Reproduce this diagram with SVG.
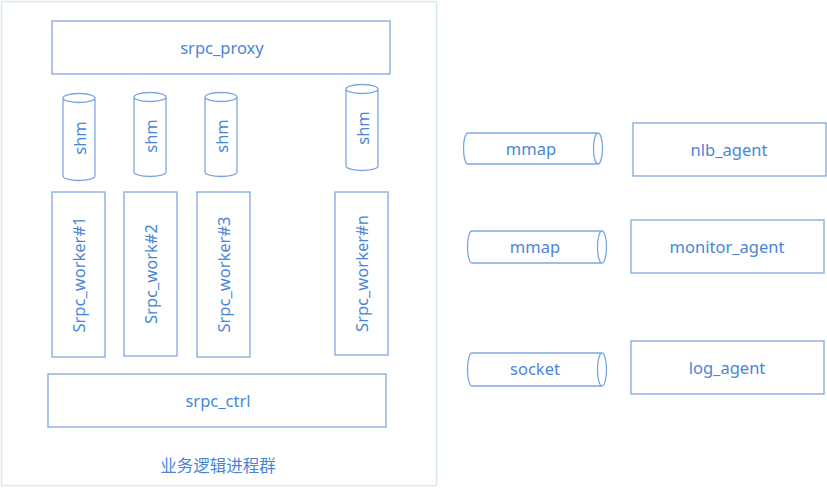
<svg xmlns="http://www.w3.org/2000/svg" width="827" height="488" viewBox="0 0 827 488">
<style>
.box{fill:#fff;stroke:#7ea6e0;stroke-width:1.3}
.cyl{fill:#fff;stroke:#7ea6e0;stroke-width:1.3}
.t{font-family:"Noto Sans","Open Sans","Noto Sans CJK SC",sans-serif;font-size:16.5px;fill:#4a86d8;text-anchor:middle;dominant-baseline:central}
</style>
<rect width="827" height="488" fill="#fff"/>
<g id="group">
<rect x="1.5" y="1.5" width="435" height="484" fill="#fff" stroke="#d6e9f0" stroke-width="1.5"/>
<text class="t" x="218" y="465" style="font-family:'Noto Sans CJK SC',sans-serif;font-size:16.5px">业务逻辑进程群</text>
</g>
<g id="srpc_proxy"><rect class="box" x="52" y="21" width="338" height="53"/><text class="t" x="222" y="47">srpc_proxy</text></g>
<g id="shm1"><path class="cyl" d="M63,98 A16,4.5 0 0 1 95,98 V176 A16,4.5 0 0 1 63,176 Z M63,98 A16,4.5 0 0 0 95,98"/><text class="t" transform="translate(79,138) rotate(-90)">shm</text></g>
<g id="shm2"><path class="cyl" d="M134,97 A16,4.5 0 0 1 166,97 V172 A16,4.5 0 0 1 134,172 Z M134,97 A16,4.5 0 0 0 166,97"/><text class="t" transform="translate(150,136) rotate(-90)">shm</text></g>
<g id="shm3"><path class="cyl" d="M205,97 A16,4.5 0 0 1 237,97 V172 A16,4.5 0 0 1 205,172 Z M205,97 A16,4.5 0 0 0 237,97"/><text class="t" transform="translate(221,136) rotate(-90)">shm</text></g>
<g id="shm4"><path class="cyl" d="M346,89 A16,4.5 0 0 1 378,89 V166 A16,4.5 0 0 1 346,166 Z M346,89 A16,4.5 0 0 0 378,89"/><text class="t" transform="translate(362,128) rotate(-90)">shm</text></g>
<g id="worker1"><rect class="box" x="52" y="192" width="53" height="165"/><text class="t" transform="translate(78.5,274.5) rotate(-90)">Srpc_worker#1</text></g>
<g id="worker2"><rect class="box" x="124" y="192" width="53" height="164"/><text class="t" transform="translate(150.5,274) rotate(-90)">Srpc_work#2</text></g>
<g id="worker3"><rect class="box" x="197" y="192" width="53" height="165"/><text class="t" transform="translate(223.5,274.5) rotate(-90)">Srpc_worker#3</text></g>
<g id="workern"><rect class="box" x="335" y="192" width="53" height="163"/><text class="t" transform="translate(361.5,273.5) rotate(-90)">Srpc_worker#n</text></g>
<g id="srpc_ctrl"><rect class="box" x="48" y="374" width="338" height="53"/><text class="t" x="218" y="400">srpc_ctrl</text></g>
<g id="mmap1"><path class="cyl" d="M468,133 H598 A4.5,15.5 0 0 1 598,164 H468 A4.5,15.5 0 0 1 468,133 Z M598,133 A4.5,15.5 0 0 0 598,164"/><text class="t" x="531" y="148">mmap</text></g>
<g id="nlb_agent"><rect class="box" x="633" y="123" width="193" height="53"/><text class="t" x="729" y="149">nlb_agent</text></g>
<g id="mmap2"><path class="cyl" d="M472,231 H602 A4.5,16 0 0 1 602,263 H472 A4.5,16 0 0 1 472,231 Z M602,231 A4.5,16 0 0 0 602,263"/><text class="t" x="535" y="246">mmap</text></g>
<g id="monitor_agent"><rect class="box" x="631" y="220" width="193" height="53"/><text class="t" x="727" y="246">monitor_agent</text></g>
<g id="socket"><path class="cyl" d="M472,353 H602 A4.5,16.5 0 0 1 602,386 H472 A4.5,16.5 0 0 1 472,353 Z M602,353 A4.5,16.5 0 0 0 602,386"/><text class="t" x="535" y="368">socket</text></g>
<g id="log_agent"><rect class="box" x="631" y="341" width="193" height="53"/><text class="t" x="727" y="367">log_agent</text></g>
<g id="connectors"></g>
</svg>
